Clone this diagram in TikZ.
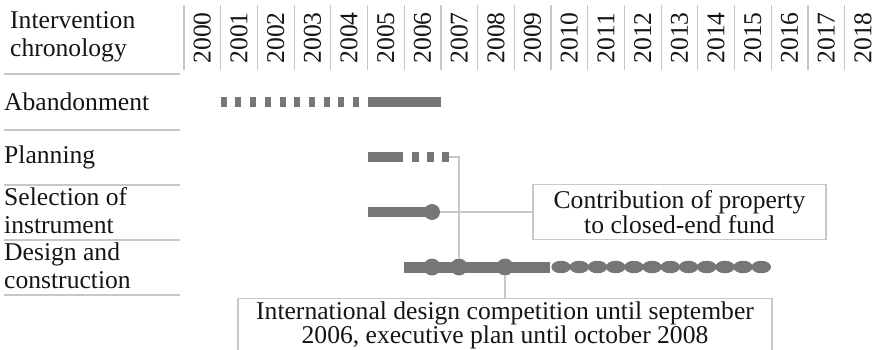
\documentclass[tikz,border=0pt]{standalone}
\usepackage{fontspec}
\setmainfont{Liberation Serif}
\usepackage{xcolor}
\definecolor{barGray}{HTML}{767676}
\definecolor{ruleGray}{HTML}{C8C8C8}
\definecolor{darkText}{HTML}{151515}
\usepackage{tikz}
\usetikzlibrary{
    shapes.geometric,
    positioning,
    calc
}
\tikzset{
    % Base style for all texts
    chrono base/.style={
        font=\fontsize{25.6}{28}\selectfont,
        text=darkText,
        inner sep=0pt,
    },
    % Row labels on the left
    row label/.style={
        chrono base,
        anchor=west,
        align=left,
    },
    % Year headers - rotated
    year label/.style={
        chrono base,
        rotate=90,
    },
    % Thin grey rules and separators
    rule/.style={
        draw=ruleGray,
        line width=1.4pt,
    },
    % Activity bar - solid
    bar/.style={
        draw=barGray,
        line width=10pt,
    },
    % Activity bar - dashed variant
    bar dashed/.style={
        bar,
        dash pattern=on 6pt off 8.7pt,
    },
    % Milestone dot
    milestone/.style={
        circle,
        fill=barGray,
        inner sep=0pt,
        minimum size=16pt,
    },
    % Small oval for the ongoing phase
    oval/.style={
        ellipse,
        fill=barGray,
        inner sep=0pt,
        minimum width=19.5pt,
        minimum height=12.5pt,
    },
    % Callout boxes
    note/.style={
        chrono base,
        font=\fontsize{25.6}{24.5}\selectfont,
        draw=ruleGray,
        line width=1.2pt,
        align=center,
    },
    % Callout lines
    callout/.style={
        draw=ruleGray,
        line width=1.2pt,
    },
}

\begin{document}
\begin{tikzpicture}[x=1pt, y=-1pt]
    \useasboundingbox (0,0) rectangle (878,350);

    % header and row labels
    \node (header) [row label] at (10,37) {Intervention\\chronology};
    \node (abandon) [row label] at (4,102) {Abandonment};
    \node (planning) [row label] at (4,157) {Planning};
    \node (selection) [row label] at (4,211) {Selection of\\instrument};
    \node (design) [row label] at (4,266) {Design and\\construction};

    \draw [rule] (4,74) -- (180,74);
    \draw [rule] (4,130) -- (180,130);
    \draw [rule] (4,185) -- (180,185);
    \draw [rule] (4,240) -- (180,240);
    \draw [rule] (4,295) -- (180,295);

    % years
    \foreach \yr [count=\i from 0] in {2000,...,2018} {
        \node (y\yr) [year label] at (202.3+36.7*\i,38) {\yr};
        \draw [rule, line width=1.2pt] (184+36.7*\i,5) -- (184+36.7*\i,70);
    }

    % Abandonment
    \draw [bar dashed] (220.7,102) -- (367,102);
    \draw [bar] (367.5,102) -- (441,102);

    % Planning
    \draw [bar] (367.5,157) -- (403,157);
    \draw [bar, dash pattern=on 6.5pt off 8.5pt] (412,157) -- (448.5,157);
    \coordinate (planEnd) at (448.5,157);

    % Selection of instrument
    \node (selDot) [milestone] at (432,212) {};
    \draw [bar] (367.5,212) -- (selDot.center);

    % Design and construction
    \draw [bar, line width=11pt] (404,267) -- (550,267);
    \node (dc1) [milestone, minimum size=17pt] at (432,267) {};
    \node (dc2) [milestone, minimum size=17pt] at (459,267) {};
    \node (dc3) [milestone, minimum size=17pt] at (505,267) {};
    \foreach \k in {0,...,11}
        \node (oval\k) [oval] at (561.1+18.2*\k,267) {};

    % notes
    \node (fundNote) [note, minimum width=293pt, minimum height=55pt] at (679.5,212)
        {Contribution of property\\to closed-end fund};
    \node (compNote) [note, font=\fontsize{25.6}{22}\selectfont, anchor=north,
        minimum width=534pt, inner ysep=3pt, text depth=16pt] at (505,298)
        {International design competition until september\\2006, executive plan until october 2008};

    \draw [callout] (planEnd) -| (dc2);
    \draw [callout] (selDot) -- (fundNote);
    \draw [callout] (dc3) -- (compNote);
\end{tikzpicture}
\end{document}
